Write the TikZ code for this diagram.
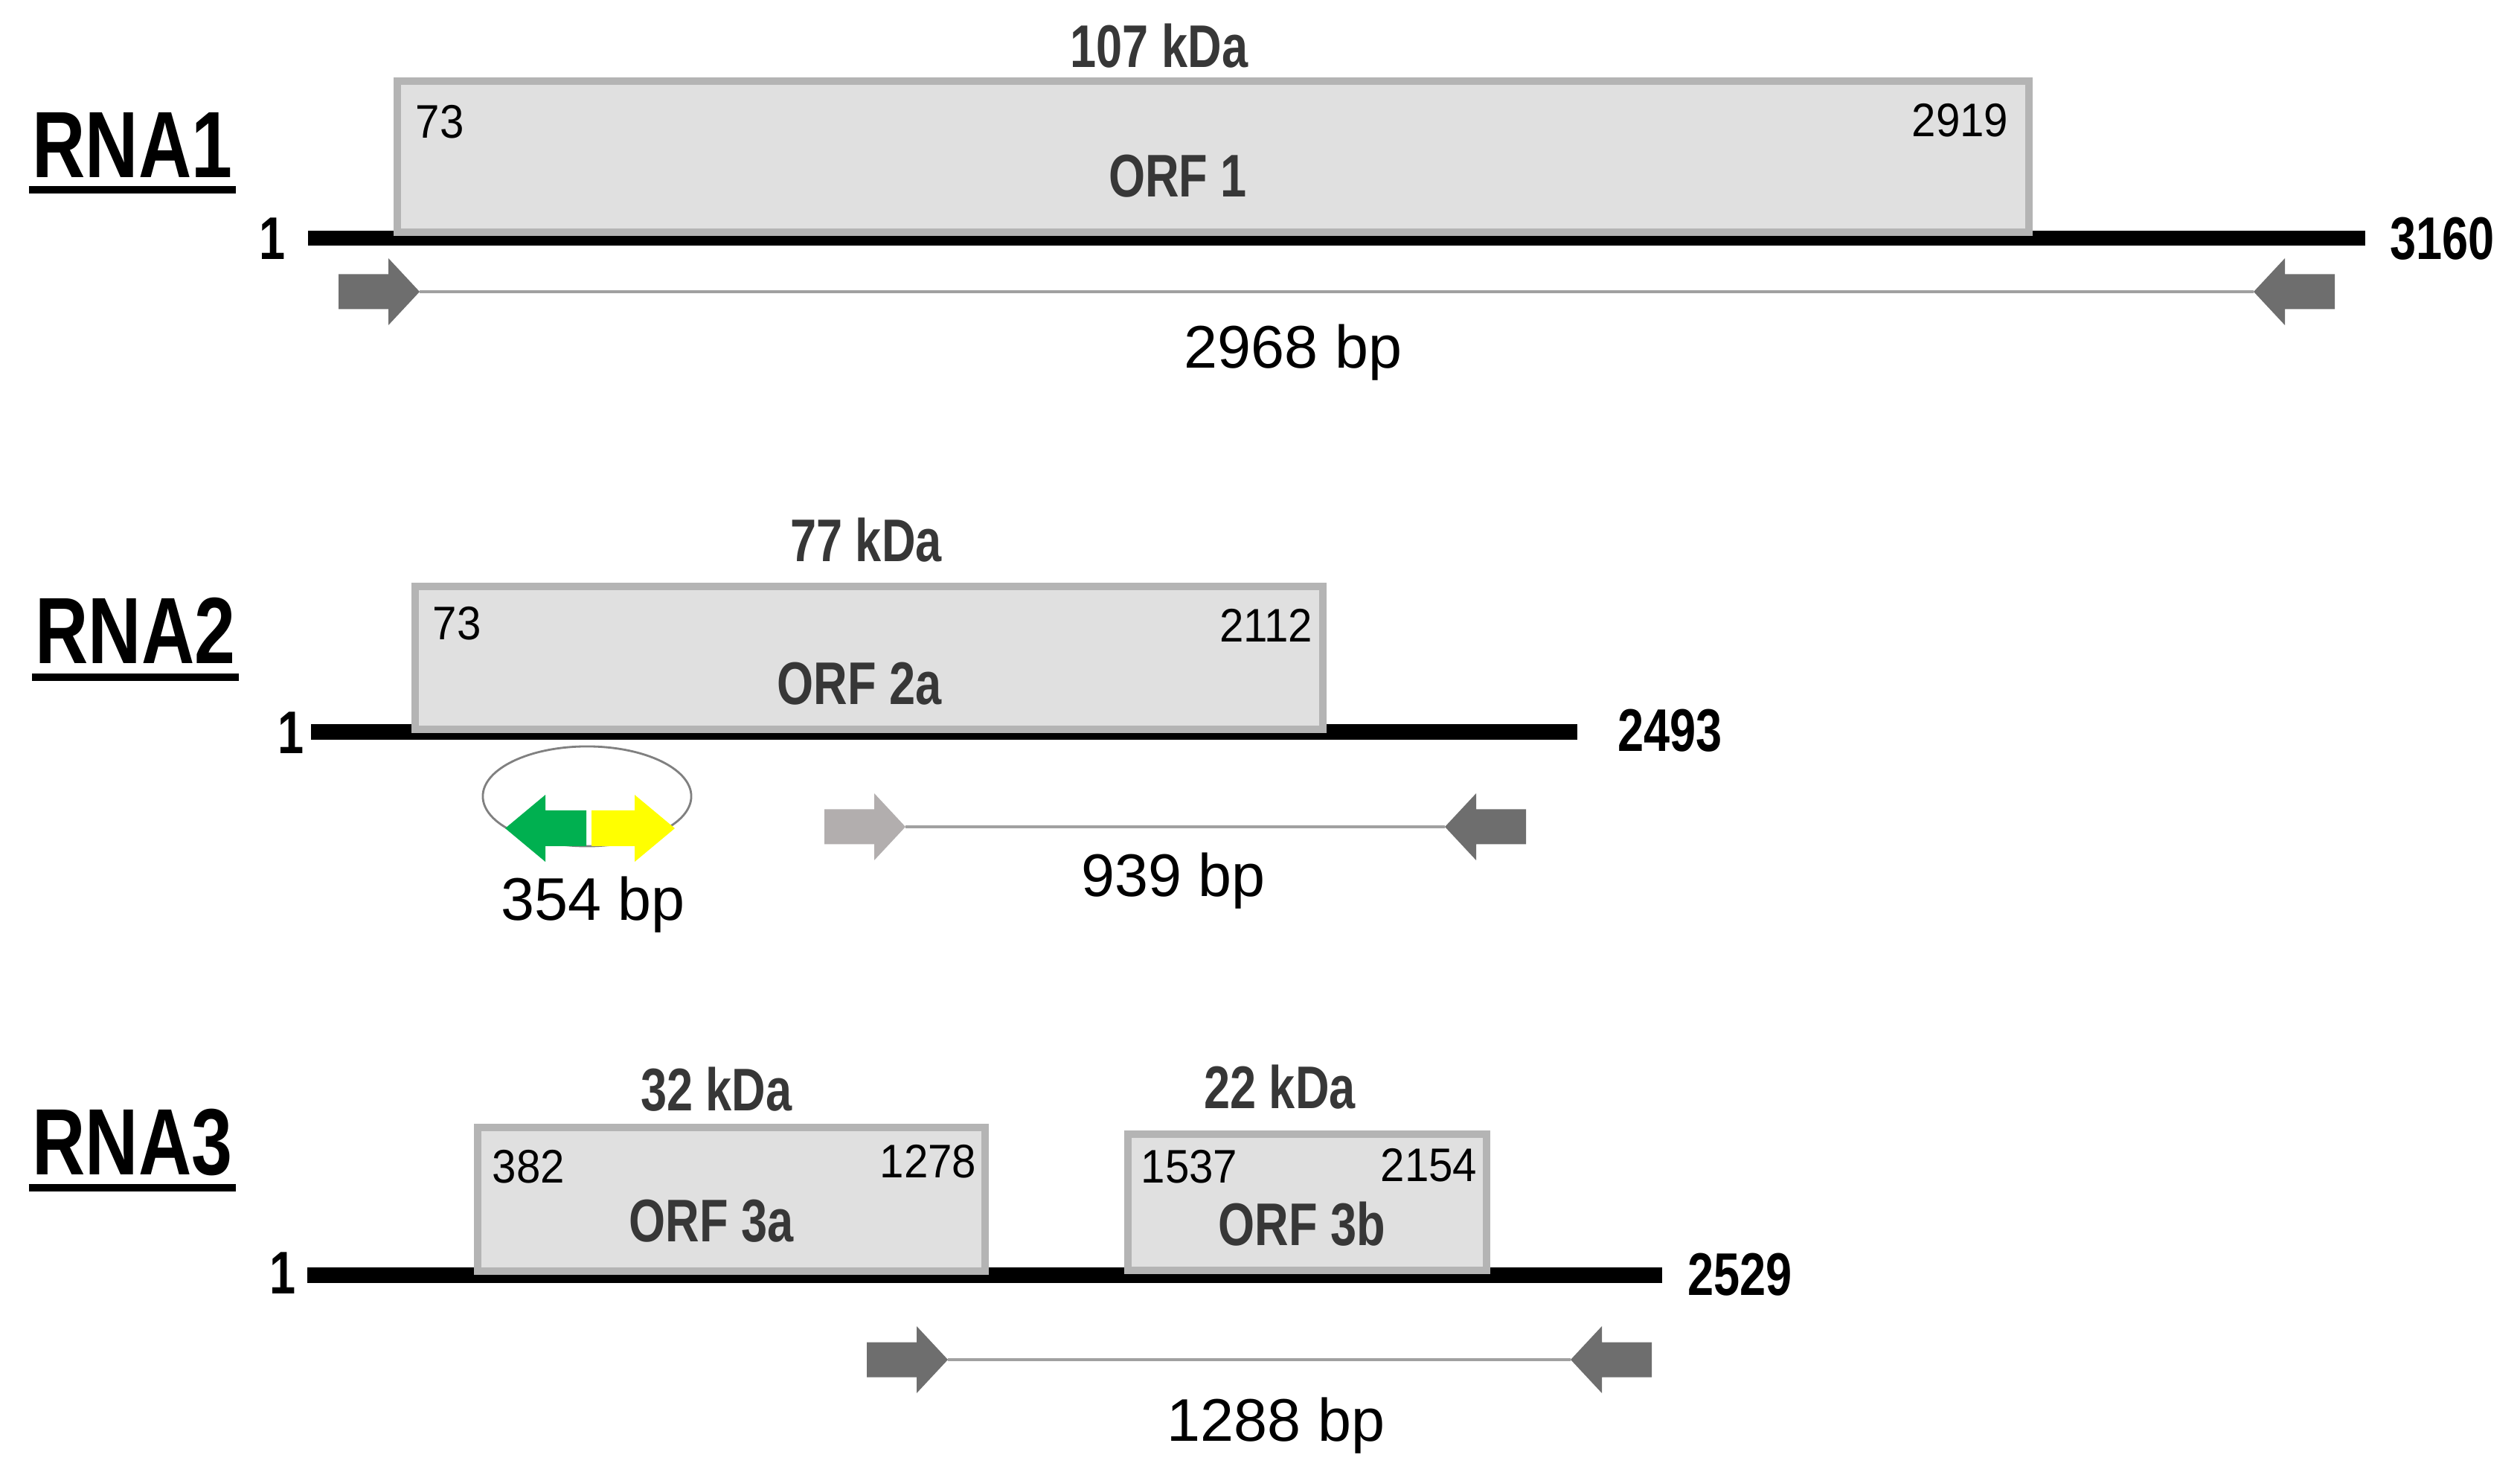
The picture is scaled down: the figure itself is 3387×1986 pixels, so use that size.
\documentclass[tikz,border=0pt]{standalone}
\usepackage{fontspec}
\setmainfont{Liberation Sans}
\newfontfamily\condfont{Liberation Sans}[FakeStretch=0.78]
\newfontfamily\posfont{Liberation Sans}[FakeStretch=0.92]
\usepackage{tikz}
\usetikzlibrary{positioning,calc}

\definecolor{boxfill}{RGB}{224,224,224}
\definecolor{boxline}{RGB}{180,180,180}
\definecolor{labelgray}{RGB}{55,55,55}
\definecolor{primerdark}{RGB}{110,110,110}
\definecolor{primerlight}{RGB}{178,174,174}
\definecolor{pcrgray}{RGB}{160,160,160}
\definecolor{probegreen}{RGB}{0,176,80}
\definecolor{probeyellow}{RGB}{255,255,0}

\begin{document}
\begin{tikzpicture}[x=0.01cm,y=-0.01cm,
	rnaname/.style={font=\condfont\bfseries\fontsize{36}{40}\selectfont,inner sep=0pt,anchor=base},
	endpos/.style={font=\condfont\bfseries\fontsize{23}{26}\selectfont,inner sep=0pt,anchor=base},
	orfname/.style={font=\condfont\bfseries\fontsize{23}{26}\selectfont,text=labelgray,inner sep=0pt,anchor=base},
	ntpos/.style={font=\posfont\fontsize{18}{20}\selectfont,inner sep=0pt},
	bplabel/.style={font=\fontsize{23}{26}\selectfont,inner sep=0pt,anchor=base},
	genome/.style={line width=5.7pt},
	uline/.style={line width=3pt},
	orfbox/.style={draw=boxline,fill=boxfill,line width=2.85pt,inner sep=0pt,anchor=south west},
	pcr/.style={draw=pcrgray,line width=1.3pt},
	primer/.pic={\fill[pic actions] (0,0) -- (-42,-45) -- (-42,-23.5) -- (-109,-23.5) -- (-109,23.5) -- (-42,23.5) -- (-42,45) -- cycle;
		\coordinate (-tip) at (0,0);}]
	\useasboundingbox (0,0) rectangle (3387,1986);

	\node[rnaname] (rna1) at (178,239) {RNA1};
	\draw[uline] ($(rna1.base west)+(-4,16)$) -- ($(rna1.base east)+(4,16)$);
	\node[endpos] (s1) at (366,349) {1};
	\node[endpos,anchor=base west] (e1) at (3212,349) {3160};
	\draw[genome] (414,320) -- (3179,320);
	\node[orfbox,minimum width=21.92cm,minimum height=2.025cm] (orf1) at (529,317) {};
	\node[orfname] (kda1) at (1558,91) {107 kDa};
	\node[orfname] (name1) at (1583,265) {ORF 1};
	\node[ntpos,anchor=base west] (st1) at (558,186) {73};
	\node[ntpos,anchor=base east] (sp1) at (2700,184) {2919};
	\pic[fill=primerdark] (f1) at (564,392) {primer};
	\pic[fill=primerdark,xscale=-1] (r1) at (3029,392) {primer};
	\draw[pcr] (f1-tip) -- (r1-tip);
	\node[bplabel] (bp1) at (1738,495) {2968 bp};

	\node[rnaname] (rna2) at (182,892) {RNA2};
	\draw[uline] ($(rna2.base west)+(-4,18)$) -- ($(rna2.base east)+(4,18)$);
	\node[endpos] (s2) at (391,1013) {1};
	\node[endpos,anchor=base west] (e2) at (2174,1010) {2493};
	\draw[genome] (418,983.5) -- (2120,983.5);
	\node[orfbox,minimum width=12.19cm,minimum height=1.92cm] (orf2a) at (553,985) {};
	\node[orfname] (kda2a) at (1164,755) {77 kDa};
	\node[orfname] (name2a) at (1155,947) {ORF 2a};
	\node[ntpos,anchor=base west] (st2a) at (581,860) {73};
	\node[ntpos,anchor=base east] (sp2a) at (1765,863) {2112};
	\draw[draw=gray,line width=0.8pt] (789,1070) ellipse [x radius=1.4cm,y radius=0.67cm];
	\fill[probegreen] (679,1113) -- (733,1068) -- (733,1089) -- (788,1089) -- (788,1137) -- (733,1137) -- (733,1158) -- cycle;
	\fill[probeyellow] (907,1113) -- (853,1068) -- (853,1089) -- (795,1089) -- (795,1137) -- (853,1137) -- (853,1158) -- cycle;
	\node[bplabel] (bpprobe) at (797,1237) {354 bp};
	\pic[fill=primerlight] (f2) at (1217,1111) {primer};
	\pic[fill=primerdark,xscale=-1] (r2) at (1942,1111) {primer};
	\draw[pcr] (f2-tip) -- (r2-tip);
	\node[bplabel] (bp2) at (1577,1205) {939 bp};

	\node[rnaname] (rna3) at (178,1579) {RNA3};
	\draw[uline] ($(rna3.base west)+(-4,17)$) -- ($(rna3.base east)+(4,17)$);
	\node[endpos] (s3) at (380,1738) {1};
	\node[endpos,anchor=base west] (e3) at (2268,1740) {2529};
	\draw[genome] (413,1713.5) -- (2234,1713.5);
	\node[orfbox,minimum width=6.82cm,minimum height=1.93cm] (orf3a) at (637,1713) {};
	\node[orfbox,minimum width=4.82cm,minimum height=1.83cm] (orf3b) at (1511,1712) {};
	\node[orfname] (kda3a) at (963,1492) {32 kDa};
	\node[orfname] (kda3b) at (1720,1489) {22 kDa};
	\node[orfname] (name3a) at (956,1668) {ORF 3a};
	\node[orfname] (name3b) at (1750,1673) {ORF 3b};
	\node[ntpos,anchor=base west] (st3a) at (661,1590) {382};
	\node[ntpos,anchor=base east] (sp3a) at (1313,1583) {1278};
	\node[ntpos,anchor=base west] (st3b) at (1533,1590) {1537};
	\node[ntpos,anchor=base east] (sp3b) at (1986,1587) {2154};
	\pic[fill=primerdark] (f3) at (1274,1827) {primer};
	\pic[fill=primerdark,xscale=-1] (r3) at (2111,1827) {primer};
	\draw[pcr] (f3-tip) -- (r3-tip);
	\node[bplabel] (bp3) at (1715,1936) {1288 bp};
\end{tikzpicture}
\end{document}
